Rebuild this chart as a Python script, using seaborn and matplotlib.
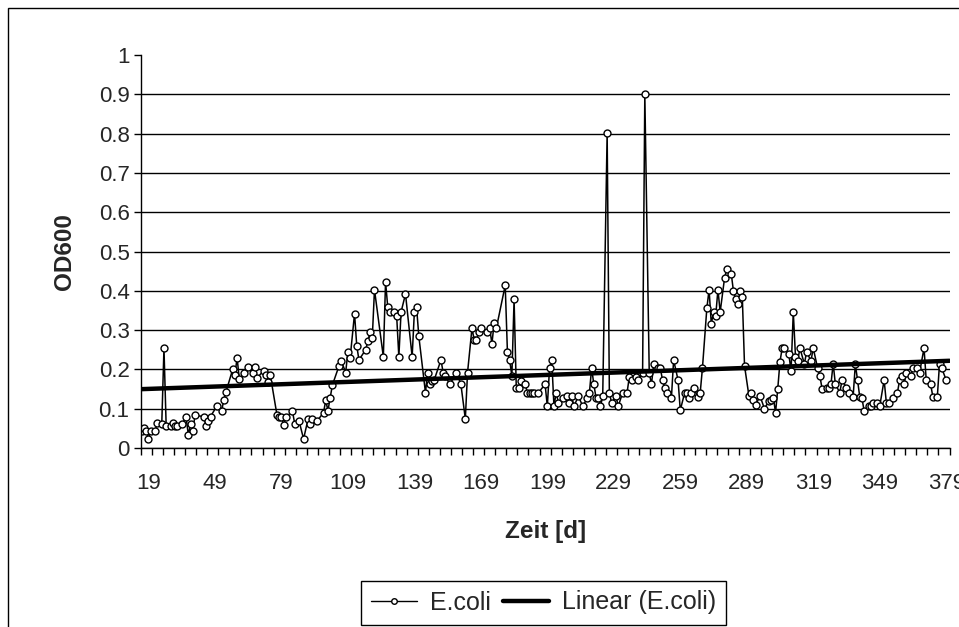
import numpy as np
import pandas as pd
import matplotlib
matplotlib.use('Agg')
import matplotlib.pyplot as plt
from matplotlib.lines import Line2D
from matplotlib.patches import Rectangle
import seaborn as sns

# sampling days and OD600 readings
days = [
    16, 17, 18, 19, 20, 22, 23, 25, 26, 27, 29, 30, 31, 32, 34, 36, 37, 38, 39, 40,
    44, 45, 46, 47, 50, 52, 53, 54, 57, 58, 59, 60, 62, 64, 66, 67, 68, 71, 72, 73,
    74, 77, 78, 79, 80, 81, 84, 85, 87, 89, 91, 92, 93, 95, 98, 99, 100, 101, 102, 105,
    106, 108, 109, 110, 112, 113, 114, 117, 118, 119, 120, 121, 125, 126, 127, 128, 130, 131, 132, 133,
    135, 138, 139, 140, 141, 144, 145, 146, 147, 148, 151, 152, 153, 155, 158, 160, 162, 163, 165, 166,
    167, 168, 169, 172, 173, 174, 175, 176, 180, 181, 182, 183, 184, 185, 186, 187, 189, 190, 191, 192,
    193, 195, 198, 199, 200, 201, 202, 203, 204, 206, 208, 209, 210, 211, 213, 215, 217, 218, 219, 220,
    221, 222, 223, 224, 226, 227, 228, 230, 231, 233, 235, 236, 237, 239, 240, 242, 243, 245, 246, 247,
    249, 250, 251, 252, 253, 255, 256, 258, 259, 261, 262, 263, 264, 265, 267, 268, 269, 271, 272, 273,
    274, 275, 276, 277, 279, 280, 282, 283, 284, 285, 286, 287, 288, 290, 291, 292, 293, 295, 297, 299,
    300, 301, 302, 303, 304, 305, 306, 308, 309, 310, 311, 312, 313, 315, 316, 318, 319, 321, 322, 323,
    325, 326, 327, 328, 329, 331, 332, 334, 335, 337, 338, 339, 340, 341, 342, 344, 345, 346, 348, 349,
    351, 352, 353, 355, 357, 358, 359, 360, 361, 363, 364, 366, 367, 369, 370, 372, 373, 375, 376, 377,
    379,
]
od600 = [
    0.044, 0.050, 0.044, 0.023, 0.044, 0.044, 0.064, 0.060, 0.254, 0.055, 0.055, 0.064, 0.055, 0.055, 0.060, 0.078, 0.033, 0.062, 0.043, 0.083,
    0.080, 0.057, 0.068, 0.080, 0.108, 0.093, 0.123, 0.143, 0.200, 0.185, 0.230, 0.175, 0.190, 0.205, 0.190, 0.205, 0.178, 0.197, 0.185, 0.168,
    0.185, 0.084, 0.079, 0.079, 0.058, 0.079, 0.093, 0.062, 0.068, 0.023, 0.073, 0.062, 0.073, 0.068, 0.090, 0.121, 0.095, 0.127, 0.160, 0.209,
    0.222, 0.192, 0.245, 0.228, 0.342, 0.260, 0.224, 0.250, 0.271, 0.295, 0.279, 0.403, 0.232, 0.423, 0.358, 0.346, 0.346, 0.337, 0.232, 0.346,
    0.392, 0.232, 0.346, 0.358, 0.285, 0.141, 0.192, 0.162, 0.170, 0.174, 0.224, 0.192, 0.183, 0.162, 0.192, 0.162, 0.074, 0.192, 0.305, 0.275,
    0.275, 0.294, 0.305, 0.294, 0.305, 0.265, 0.318, 0.305, 0.414, 0.244, 0.224, 0.183, 0.378, 0.152, 0.152, 0.171, 0.162, 0.141, 0.141, 0.141,
    0.141, 0.141, 0.162, 0.106, 0.203, 0.224, 0.106, 0.141, 0.115, 0.127, 0.132, 0.115, 0.132, 0.106, 0.132, 0.106, 0.127, 0.141, 0.203, 0.162,
    0.127, 0.127, 0.106, 0.132, 0.802, 0.141, 0.115, 0.132, 0.106, 0.141, 0.141, 0.181, 0.173, 0.181, 0.173, 0.191, 0.901, 0.191, 0.162, 0.213,
    0.203, 0.203, 0.173, 0.153, 0.141, 0.127, 0.224, 0.173, 0.096, 0.141, 0.141, 0.127, 0.141, 0.153, 0.130, 0.141, 0.203, 0.356, 0.403, 0.316,
    0.346, 0.337, 0.403, 0.346, 0.433, 0.455, 0.444, 0.399, 0.378, 0.367, 0.399, 0.384, 0.209, 0.132, 0.141, 0.121, 0.110, 0.132, 0.100, 0.120,
    0.122, 0.128, 0.090, 0.151, 0.220, 0.254, 0.254, 0.238, 0.196, 0.346, 0.232, 0.222, 0.254, 0.214, 0.244, 0.222, 0.254, 0.203, 0.183, 0.151,
    0.153, 0.153, 0.162, 0.215, 0.162, 0.141, 0.173, 0.153, 0.141, 0.130, 0.213, 0.173, 0.130, 0.126, 0.094, 0.106, 0.106, 0.115, 0.115, 0.106,
    0.173, 0.115, 0.115, 0.127, 0.141, 0.173, 0.183, 0.162, 0.192, 0.183, 0.203, 0.203, 0.192, 0.254, 0.173, 0.162, 0.130, 0.130, 0.215, 0.203,
    0.173,
]
x_labels = [19, 49, 79, 109, 139, 169, 199, 229, 259, 289, 319, 349, 379]
y_ticks = [0, 0.1, 0.2, 0.3, 0.4, 0.5, 0.6, 0.7, 0.8, 0.9, 1]

df = pd.DataFrame({'Zeit': days, 'OD600': od600})

sns.set_style('white')
plt.rcParams['font.family'] = ['Liberation Sans', 'DejaVu Sans']

W, H = 959, 627
fig = plt.figure(figsize=(W / 100, H / 100), dpi=100)
ax = fig.add_axes([140.7 / W, 1 - 448 / H, (949.5 - 140.7) / W, (448 - 55) / H])

ax.set_xlim(15.5, 380.5)
ax.set_ylim(0, 1)

sns.lineplot(data=df, x='Zeit', y='OD600', ax=ax, color='black', linewidth=1.1,
             marker='o', markersize=5, markerfacecolor='white',
             markeredgecolor='black', markeredgewidth=1, legend=False)
sns.regplot(data=df, x='Zeit', y='OD600', ax=ax, scatter=False, ci=None,
            truncate=False, line_kws={'color': 'black', 'linewidth': 3.2})
ax.set_xlim(15.5, 380.5)

ax.set_xticks(x_labels)
ax.set_xticks(np.arange(15.5, 381, 5), minor=True)
ax.set_yticks(y_ticks)
ax.set_yticklabels([f'{t:g}' for t in y_ticks])
ax.tick_params(axis='x', which='major', length=0, pad=18, labelsize=16)
ax.tick_params(axis='x', which='minor', length=5, width=1, direction='out',
               color='black', bottom=True)
ax.tick_params(axis='y', length=5, width=1, direction='out', color='black',
               left=True, pad=3, labelsize=16)

ax.grid(axis='y', color='black', linewidth=1)
for t in ax.yaxis.get_major_ticks():
    if t.get_loc() >= 1:
        t.gridline.set_visible(False)
ax.set_axisbelow(True)

for side in ['top', 'right']:
    ax.spines[side].set_visible(False)
for side in ['left', 'bottom']:
    ax.spines[side].set_color('black')
    ax.spines[side].set_linewidth(1)

ax.set_xlabel('Zeit [d]', fontsize=17.5, fontweight='bold')
ax.set_ylabel('OD600', fontsize=17.5, fontweight='bold')
ax.xaxis.set_label_coords(0.5, -0.182)
ax.yaxis.set_label_coords(-0.08, 0.5)

handles = [
    Line2D([], [], color='black', linewidth=1, marker='o', markersize=4,
           markerfacecolor='white', markeredgecolor='black'),
    Line2D([], [], color='black', linewidth=3.2),
]
leg = fig.legend(handles, ['E.coli', 'Linear (E.coli)'], loc='center',
                 bbox_to_anchor=(543.5 / W, 1 - 602.5 / H), ncol=2,
                 fontsize=18, frameon=True, fancybox=False, framealpha=1,
                 edgecolor='black', borderpad=0.4, handlelength=1.85,
                 handletextpad=0.5, columnspacing=0.5)
leg.get_frame().set_linewidth(1)

# outer chart frame (cropped at right and bottom)
fig.patches.append(Rectangle((8 / W, -0.1), 1.2, 1 - 8 / H + 0.1,
                             transform=fig.transFigure, fill=False,
                             edgecolor='black', linewidth=1))

fig.savefig('out.png', dpi=100)
